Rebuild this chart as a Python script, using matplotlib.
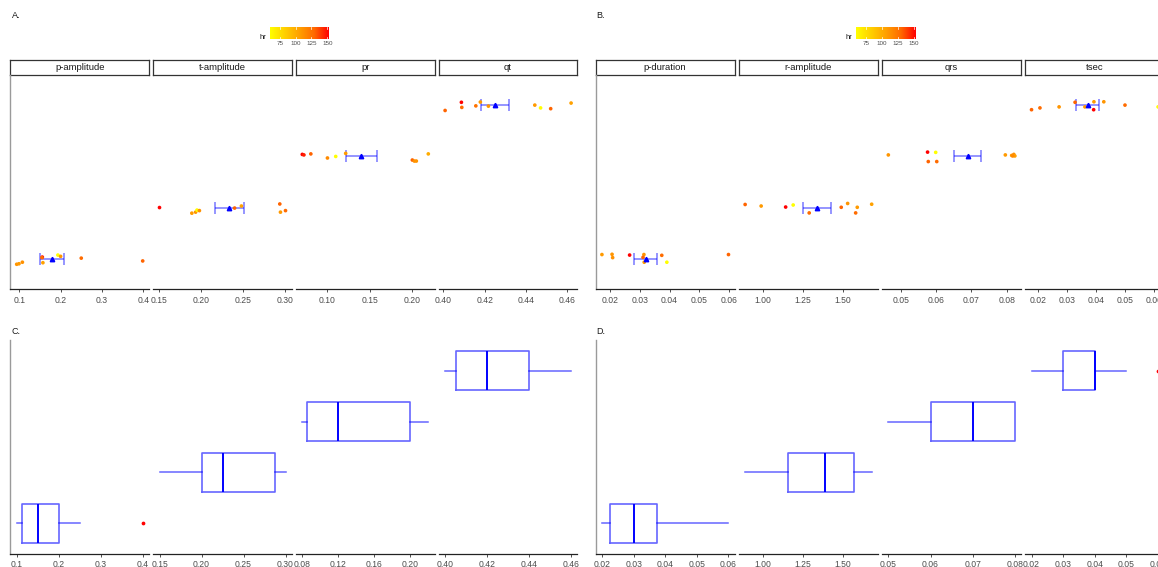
import numpy as np
import matplotlib
matplotlib.use("Agg")
import matplotlib.pyplot as plt
from matplotlib.colors import LinearSegmentedColormap, Normalize

plt.rcParams["font.family"] = ["Liberation Sans", "DejaVu Sans"]

W, H = 1158, 567

panel_a = ["p-amplitude", "t-amplitude", "pr", "qt"]
panel_b = ["p-duration", "r-amplitude", "qrs", "tsec"]

# measured values (one per subject, n = 10)
values = {
    "p-amplitude": [0.10, 0.10, 0.10, 0.15, 0.15, 0.15, 0.20, 0.20, 0.25, 0.40],
    "t-amplitude": [0.15, 0.19, 0.20, 0.20, 0.20, 0.25, 0.25, 0.30, 0.30, 0.30],
    "pr":          [0.08, 0.08, 0.08, 0.10, 0.11, 0.13, 0.20, 0.20, 0.20, 0.22],
    "qt":          [0.40, 0.40, 0.40, 0.42, 0.42, 0.42, 0.44, 0.44, 0.45, 0.46],
    "p-duration":  [0.02, 0.02, 0.02, 0.03, 0.03, 0.03, 0.03, 0.04, 0.04, 0.06],
    "r-amplitude": [0.89, 0.99, 1.15, 1.19, 1.29, 1.49, 1.53, 1.59, 1.58, 1.68],
    "qrs":         [0.05, 0.06, 0.06, 0.06, 0.06, 0.08, 0.08, 0.08, 0.08, 0.08],
    "tsec":        [0.02, 0.02, 0.03, 0.03, 0.04, 0.04, 0.04, 0.04, 0.05, 0.06],
}

# jitter as it shows in panels A and B
jitter_x = {
    "p-amplitude": [-0.006, -0.0005, 0.0077, 0.0059, 0.0073, 0.005, -0.0065, 0.0, -0.0001, -0.0017],
    "t-amplitude": [0.001, -0.0005, -0.006, -0.0044, -0.0015, -0.0096, -0.0015, -0.0058, -0.005, 0.001],
    "pr":          [-0.0098, -0.0079, 0.0003, 0.0, -0.0002, -0.0084, 0.0006, 0.003, 0.0053, -0.0005],
    "qt":          [0.0008, 0.0087, 0.0089, -0.0043, -0.0021, 0.0018, 0.0043, 0.0071, 0.002, 0.0019],
    "p-duration":  [-0.0027, 0.0007, 0.0009, -0.0034, 0.0014, 0.0011, 0.0015, -0.0026, -0.0009, -0.0002],
    "r-amplitude": [0.0, 0.0, -0.007, 0.0, 0.0, 0.0, 0.0, 0.0, 0.0, 0.0],
    "qrs":         [-0.0035, -0.0024, -0.0001, -0.0022, 0.0002, -0.0004, 0.0014, 0.002, 0.0023, 0.0017],
    "tsec":        [-0.0023, 0.0006, -0.0028, 0.0027, -0.0039, -0.0008, -0.0009, 0.0026, -0.0001, 0.0013],
}
jitter_y = {
    "p-amplitude": [-0.11, -0.10, -0.07, 0.03, -0.08, 0.02, 0.07, 0.045, 0.01, -0.045],
    "t-amplitude": [0.0, -0.11, -0.09, -0.05, -0.06, -0.01, 0.03, 0.07, -0.09, -0.06],
    "pr":          [0.04, 0.03, 0.05, -0.03, 0.0, 0.06, -0.07, -0.09, -0.09, 0.05],
    "qt":          [-0.10, 0.06, -0.04, -0.01, 0.065, -0.015, 0.005, -0.05, -0.065, 0.045],
    "p-duration":  [0.08, 0.085, 0.02, 0.07, 0.08, 0.025, -0.07, 0.065, -0.07, 0.08],
    "r-amplitude": [0.06, 0.03, 0.01, 0.05, -0.105, 0.005, 0.08, 0.005, -0.105, 0.065],
    "qrs":         [0.03, 0.085, 0.08, -0.10, -0.10, 0.03, 0.02, 0.04, 0.01, 0.01],
    "tsec":        [-0.085, -0.05, -0.03, 0.06, -0.03, 0.07, -0.085, 0.07, 0.005, -0.03],
}
hr = {
    "p-amplitude": [110, 108, 112, 152, 105, 128, 59, 110, 128, 130],
    "t-amplitude": [152, 108, 110, 59, 112, 130, 105, 130, 108, 128],
    "pr":          [152, 145, 130, 115, 59, 108, 130, 112, 110, 100],
    "qt":          [130, 152, 128, 125, 108, 110, 108, 59, 130, 105],
    "p-duration":  [108, 110, 112, 152, 110, 130, 108, 128, 59, 130],
    "r-amplitude": [130, 108, 152, 59, 128, 130, 110, 108, 128, 105],
    "qrs":         [110, 152, 59, 130, 128, 108, 110, 112, 105, 115],
    "tsec":        [130, 128, 110, 130, 108, 108, 152, 110, 128, 59],
}

ticks_top = {
    "p-amplitude": [0.1, 0.2, 0.3, 0.4],
    "t-amplitude": [0.15, 0.20, 0.25, 0.30],
    "pr": [0.10, 0.15, 0.20],
    "qt": [0.40, 0.42, 0.44, 0.46],
    "p-duration": [0.02, 0.03, 0.04, 0.05, 0.06],
    "r-amplitude": [1.00, 1.25, 1.50],
    "qrs": [0.05, 0.06, 0.07, 0.08],
    "tsec": [0.02, 0.03, 0.04, 0.05, 0.06],
}
ticks_bottom = dict(ticks_top, pr=[0.08, 0.12, 0.16, 0.20])
hr_ticks = [75, 100, 125, 150]

cmap = LinearSegmentedColormap.from_list(
    "hr", ["#ffff00", "#ffd000", "#ffa000", "#ff6a00", "#ff0000"])
all_hr = np.concatenate([hr[k] for k in hr])
norm = Normalize(all_hr.min(), all_hr.max())

fig = plt.figure(figsize=(W / 100, H / 100), dpi=100)


def px_axes(x0, y0, x1, y1):
    return fig.add_axes([x0 / W, 1 - y1 / H, (x1 - x0) / W, (y1 - y0) / H])


def style(ax, first, ticks, name):
    ax.set_ylim(0.4, 4.6)
    ax.set_yticks([])
    for s in ["top", "right"]:
        ax.spines[s].set_visible(False)
    ax.spines["left"].set_visible(first)
    ax.spines["left"].set_color("#9a9a9a")
    ax.spines["left"].set_linewidth(1.0)
    ax.spines["bottom"].set_color("#222222")
    ax.spines["bottom"].set_linewidth(0.9)
    fmt = "%.1f" if name == "p-amplitude" else "%.2f"
    ax.set_xticks(ticks)
    ax.set_xticklabels([fmt % t for t in ticks])
    ax.tick_params(axis="x", labelsize=6.2, labelcolor="#4d4d4d", color="#333333",
                   length=2.5, width=0.6, pad=2)
    ax.set_facecolor("none")


def strip(x0, x1, y0, y1, label):
    s = px_axes(x0, y0, x1, y1)
    s.set_xticks([])
    s.set_yticks([])
    for sp in s.spines.values():
        sp.set_color("#333333")
        sp.set_linewidth(0.9)
    s.text(0.5, 0.5, label, ha="center", va="center", fontsize=6.8,
           color="#1a1a1a", transform=s.transAxes)


def colorbar(x0, x1, lab_x):
    cax = px_axes(x0, 26.7, x1, 39.0)
    grad = np.linspace(norm.vmin, norm.vmax, 256)
    cax.imshow(grad[None, :], aspect="auto", cmap=cmap, norm=norm,
               extent=[norm.vmin, norm.vmax, 0, 1])
    cax.set_xlim(norm.vmin, norm.vmax)
    cax.set_ylim(0, 1)
    for t in hr_ticks:
        cax.plot([t, t], [0, 0.2], color="white", lw=0.5)
        cax.plot([t, t], [0.8, 1], color="white", lw=0.5)
        cax.text(t, -0.2, str(t), ha="center", va="top", fontsize=4.5,
                 color="#4d4d4d", transform=cax.get_xaxis_transform())
    cax.axis("off")
    fig.text(lab_x / W, 1 - 37.5 / H, "hr", fontsize=5.5, ha="center",
             va="center", color="#1a1a1a")


def top_panel(names, left, step, width):
    for i, name in enumerate(names):
        level = i + 1
        x0 = left + i * step
        strip(x0, x0 + width, 60.3, 74.7, name)
        ax = px_axes(x0, 74.7, x0 + width, 289.3)
        v = np.array(values[name])
        xs = v + np.array(jitter_x[name])
        ys = level + np.array(jitter_y[name])
        m = v.mean()
        se = v.std(ddof=1) / np.sqrt(len(v))
        ax.errorbar(m, level, xerr=se, fmt="none", ecolor=(0, 0, 1, 0.45),
                    elinewidth=1.3, capsize=4.5, capthick=1.3, zorder=2)
        ax.scatter(xs, ys, c=hr[name], cmap=cmap, norm=norm, s=7,
                   linewidths=0, zorder=3)
        ax.plot(m, level, marker="^", color="blue", ms=3.2, zorder=4)
        style(ax, i == 0, ticks_top[name], name)


def bottom_panel(names, left, step, width):
    for i, name in enumerate(names):
        level = i + 1
        x0 = left + i * step
        ax = px_axes(x0, 340, x0 + width, 554)
        ax.boxplot([values[name]], positions=[level], widths=0.75,
                   orientation="horizontal", showcaps=False, manage_ticks=False,
                   boxprops=dict(color=(0, 0, 1, 0.6), lw=1.2),
                   medianprops=dict(color="blue", lw=1.4),
                   whiskerprops=dict(color=(0, 0, 1, 0.6), lw=1.1),
                   flierprops=dict(marker="o", markersize=1.7,
                                   markerfacecolor="red", markeredgecolor="red"))
        style(ax, i == 0, ticks_bottom[name], name)


top_panel(panel_a, 10.4, 142.8, 138.6)
top_panel(panel_b, 595.6, 143.2, 139.2)
bottom_panel(panel_a, 10.4, 142.8, 138.6)
bottom_panel(panel_b, 595.6, 143.2, 139.2)

colorbar(269.6, 328.5, 262.6)
colorbar(856.0, 915.2, 848.5)

for lab, x, y in [("A.", 12, 15), ("B.", 596, 15), ("C.", 12, 331), ("D.", 596, 331)]:
    fig.text(x / W, 1 - y / H, lab, fontsize=6.5, ha="left", va="center",
             color="#1a1a1a")

fig.savefig("out.png", dpi=100)
